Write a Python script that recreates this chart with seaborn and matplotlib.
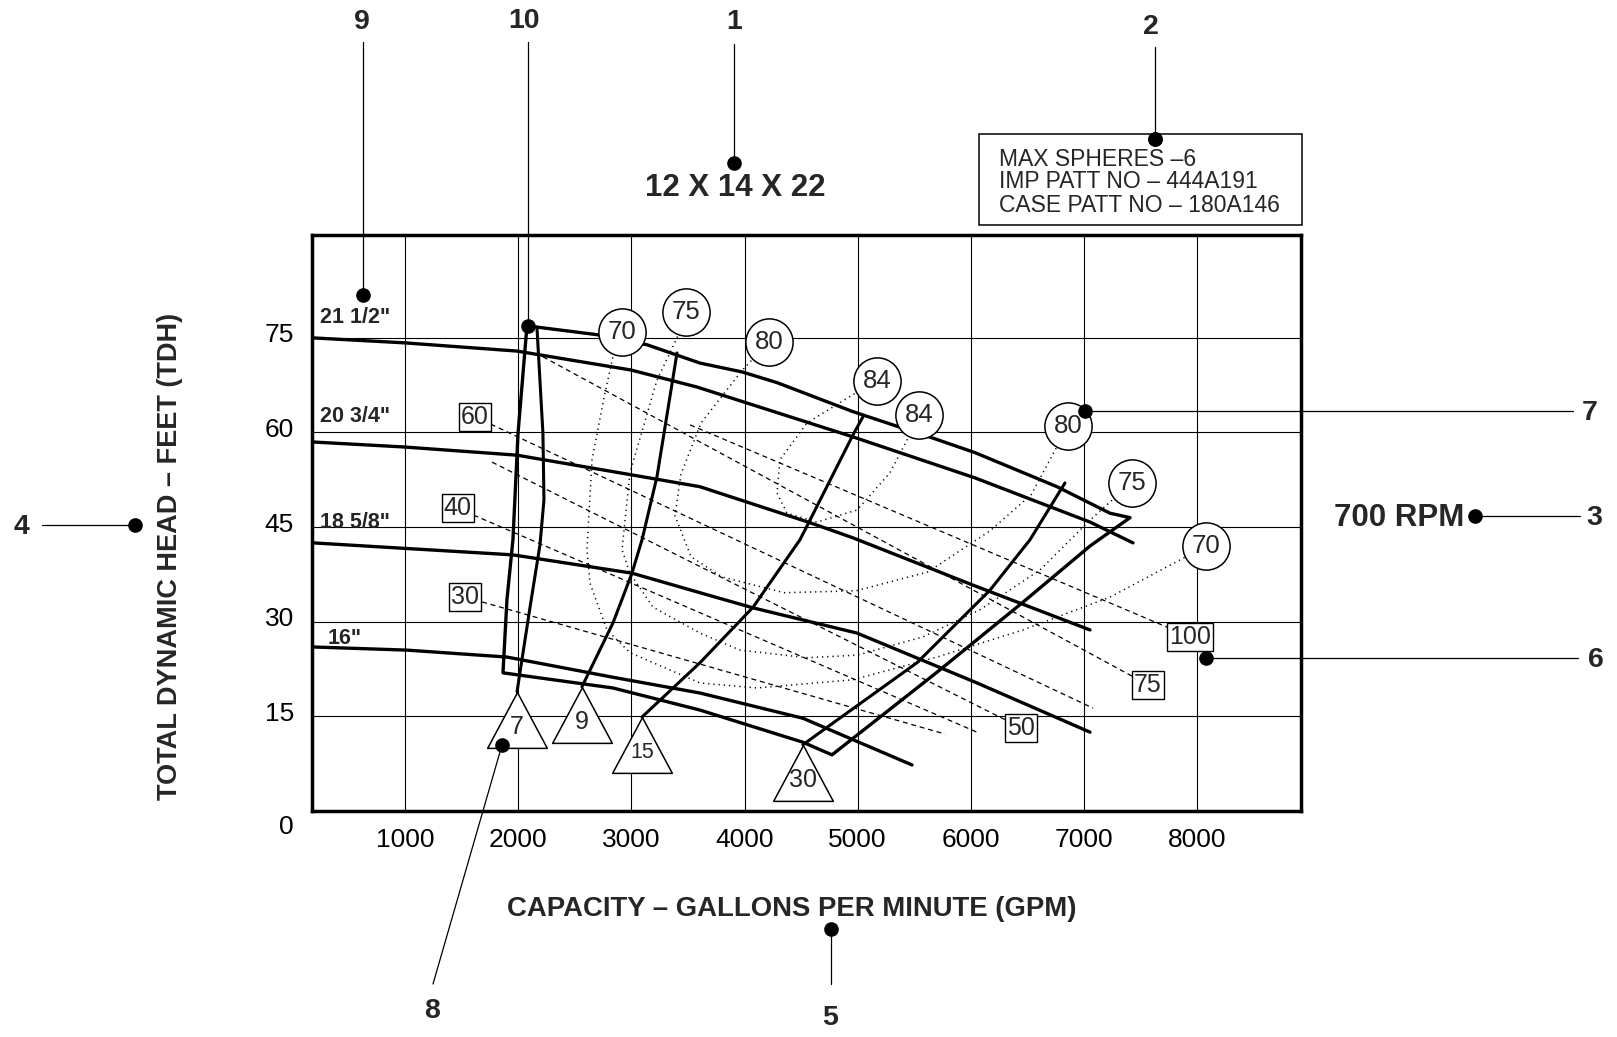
import matplotlib
matplotlib.use("Agg")
import matplotlib.pyplot as plt
from matplotlib.path import Path
from matplotlib.patches import Rectangle
from matplotlib.lines import Line2D
from matplotlib.transforms import ScaledTranslation
import seaborn as sns

# ---------------- data (capacity in GPM, head in feet) ----------------
gpm_ticks = [1000, 2000, 3000, 4000, 5000, 6000, 7000, 8000]
tdh_ticks = [0, 15, 30, 45, 60, 75]

# impeller head-capacity curves
imp_21_5_gpm = [177, 999, 1989, 2996, 3580, 4958, 6037, 7053, 7433]
imp_21_5_tdh = [75.0, 74.2, 72.9, 69.9, 67.2, 59.3, 52.8, 45.8, 42.5]
imp_20_75_gpm = [177, 990, 1989, 2996, 3606, 4578, 4958, 6019, 7053]
imp_20_75_tdh = [58.5, 57.7, 56.4, 53.3, 51.4, 45.7, 43.3, 35.8, 28.7]
imp_18_625_gpm = [186, 1953, 3005, 3606, 4075, 4994, 6054, 7053]
imp_18_625_tdh = [42.5, 40.6, 37.7, 34.6, 32.2, 28.2, 20.3, 12.5]
imp_16_gpm = [186, 1016, 1900, 2837, 3606, 4516, 5480]
imp_16_tdh = [26.0, 25.5, 24.4, 21.2, 18.7, 14.7, 7.3]
imp_labels = ['21 1/2"', '20 3/4"', '18 5/8"', '16"']

# recommended operating region
region_gpm = [2077, 2696, 3138, 3606, 3977, 4287, 4958, 5666, 6037, 6762, 7230, 7407,
              7053, 6461, 5701, 4773, 4516, 3606, 2837, 1865, 1900, 1953, 1998, 2077]
region_tdh = [76.9, 75.5, 73.9, 71.0, 69.6, 67.9, 63.3, 59.1, 56.8, 51.4, 47.2, 46.5,
              42.0, 33.1, 22.0, 8.9, 10.9, 16.0, 19.5, 21.9, 33.5, 43.0, 59.9, 76.9]

# NPSH required lines (first point = lower end)
npsh_7_gpm = [1989, 2104, 2192, 2227, 2218, 2165]
npsh_7_tdh = [18.9, 32.3, 42.2, 49.3, 59.9, 76.7]
npsh_9_gpm = [2563, 2837, 3005, 3094, 3226, 3403]
npsh_9_tdh = [19.7, 29.8, 37.7, 43.0, 53.0, 72.6]
npsh_15_gpm = [3094, 3606, 4075, 4490, 4578, 4958, 5047]
npsh_15_tdh = [14.9, 23.5, 32.3, 43.0, 46.1, 59.6, 62.5]
npsh_30_gpm = [4516, 4693, 5524, 6169, 6523, 6832]
npsh_30_tdh = [10.5, 12.8, 23.5, 35.0, 43.0, 52.0]
npsh_labels = [7, 9, 15, 30]

# efficiency contours (%)
eff_70_gpm = [2908, 2837, 2767, 2652, 2607, 2634, 2784, 2987, 3606, 4110, 4958, 5701, 6461, 7230, 8079]
eff_70_tdh = [75.8, 72.0, 66.3, 55.7, 41.4, 36.1, 28.7, 25.1, 20.3, 19.5, 20.8, 24.4, 28.7, 33.9, 42.0]
eff_75_gpm = [3482, 3403, 3226, 2987, 2917, 2987, 3191, 3606, 3960, 4552, 4994, 5577, 6081, 6611, 7053, 7416]
eff_75_tdh = [79.1, 75.0, 68.3, 53.6, 41.4, 37.7, 32.3, 28.2, 25.5, 24.3, 24.7, 27.6, 31.9, 38.2, 46.1, 52.0]
eff_80_gpm = [4216, 3977, 3615, 3438, 3385, 3527, 3801, 4349, 4985, 5621, 6169, 6532, 6859]
eff_80_tdh = [74.4, 69.8, 61.5, 53.4, 46.8, 40.3, 37.1, 34.6, 34.9, 37.9, 44.4, 50.1, 61.0]
eff_84_gpm = [5171, 4958, 4552, 4313, 4287, 4375, 4640, 4994, 5285, 5436, 5542]
eff_84_tdh = [68.2, 66.0, 61.5, 55.7, 50.4, 47.2, 45.8, 47.7, 53.6, 58.8, 62.8]
eff_labels = [70, 75, 80, 84, 84, 80, 75, 70]
eff_label_gpm = [2914, 3482, 4220, 5171, 5546, 6859, 7420, 8079]
eff_label_tdh = [75.9, 79.1, 74.3, 68.1, 62.7, 61.0, 52.0, 42.0]

# brake horsepower lines
hp_100_gpm = [3518, 7937]
hp_100_tdh = [61.2, 27.6]
hp_75_gpm = [2218, 7566]
hp_75_tdh = [72.0, 20.0]
hp_60_gpm = [1617, 7080]
hp_60_tdh = [62.5, 16.3]
hp_50_gpm = [1768, 6443]
hp_50_tdh = [55.3, 13.2]
hp_40_gpm = [1463, 6054]
hp_40_tdh = [48.0, 12.5]
hp_30_gpm = [1532, 5772]
hp_30_tdh = [33.9, 12.2]
hp_labels = [60, 40, 30, 100, 75, 50]
hp_label_gpm = [1617, 1463, 1532, 7937, 7566, 6443]
hp_label_tdh = [62.5, 48.0, 33.9, 27.6, 20.0, 13.2]

pump_size = "12 X 14 X 22"
speed = "700 RPM"
info_lines = ["MAX SPHERES \u20136", "IMP PATT NO \u2013 444A191", "CASE PATT NO \u2013 180A146"]
x_title = "CAPACITY \u2013 GALLONS PER MINUTE (GPM)"
y_title = "TOTAL DYNAMIC HEAD \u2013 FEET (TDH)"

# ---------------- figure ----------------
sns.set_theme(style="white")
plt.rcParams['font.family'] = ['Liberation Sans', 'DejaVu Sans']
plt.rcParams['lines.solid_capstyle'] = 'round'

W, H = 1617, 1037
fig = plt.figure(figsize=(W / 100, H / 100), dpi=100, facecolor='white')
ax = fig.add_axes([312 / W, 1 - 811 / H, (1301 - 312) / W, (811 - 235) / H])
ax.set_facecolor('white')
ax.set_xlim(177, 8918)
ax.set_ylim(0, 91.3)

ax.set_xticks(gpm_ticks)
ax.set_xticklabels([str(v) for v in gpm_ticks], fontsize=19)
ax.set_yticks(tdh_ticks)
ax.set_yticklabels([str(v) for v in tdh_ticks], fontsize=19)
ax.tick_params(axis='both', length=0, colors='black')
ax.tick_params(axis='x', pad=12)
ax.tick_params(axis='y', pad=13)
for lab, v in zip(ax.get_yticklabels(), tdh_ticks):
    dy = -0.14 if v == 0 else 0.05
    lab.set_transform(lab.get_transform() + ScaledTranslation(0, dy, fig.dpi_scale_trans))
ax.grid(True, color='black', lw=0.8)
ax.set_axisbelow(True)
for sp in ax.spines.values():
    sp.set_visible(True)
    sp.set_color('black')
    sp.set_linewidth(2.5)


def curve(xs, ys, lw=2.3, ls='-', z=3):
    sns.lineplot(x=xs, y=ys, sort=False, estimator=None, color='black', lw=lw,
                 linestyle=ls, ax=ax, legend=False, zorder=z)


dash = (0, (4, 3))
dot_ls = (0, (0.8, 2.6))

# horsepower lines
for xs, ys in [(hp_100_gpm, hp_100_tdh), (hp_75_gpm, hp_75_tdh), (hp_60_gpm, hp_60_tdh),
               (hp_50_gpm, hp_50_tdh), (hp_40_gpm, hp_40_tdh), (hp_30_gpm, hp_30_tdh)]:
    curve(xs, ys, lw=0.9, ls=dash, z=2)

# efficiency contours
for xs, ys in [(eff_70_gpm, eff_70_tdh), (eff_75_gpm, eff_75_tdh),
               (eff_80_gpm, eff_80_tdh), (eff_84_gpm, eff_84_tdh)]:
    curve(xs, ys, lw=1.1, ls=dot_ls, z=2)

# impeller curves, region and NPSH lines
for xs, ys in [(imp_21_5_gpm, imp_21_5_tdh), (imp_20_75_gpm, imp_20_75_tdh),
               (imp_18_625_gpm, imp_18_625_tdh), (imp_16_gpm, imp_16_tdh),
               (region_gpm, region_tdh)]:
    curve(xs, ys, lw=2.4)
npsh_lines = [(npsh_7_gpm, npsh_7_tdh), (npsh_9_gpm, npsh_9_tdh),
              (npsh_15_gpm, npsh_15_tdh), (npsh_30_gpm, npsh_30_tdh)]
for xs, ys in npsh_lines:
    curve(xs, ys, lw=2.2)

# impeller diameter labels
imp_label_pos = [(247, 78.3), (247, 62.5), (247, 45.7), (318, 27.3)]
for txt, (gx, hy) in zip(imp_labels, imp_label_pos):
    ax.text(gx, hy, txt, fontsize=15.5, fontweight='bold', ha='left', va='center', zorder=4)

# efficiency circles
sns.scatterplot(x=eff_label_gpm, y=eff_label_tdh, s=34 ** 2, color='white',
                edgecolor='black', linewidth=1.1, ax=ax, zorder=5, legend=False)
for v, gx, hy in zip(eff_labels, eff_label_gpm, eff_label_tdh):
    ax.text(gx, hy, str(v), fontsize=18.5, ha='center', va='center', zorder=6)

# horsepower boxes
for v, gx, hy in zip(hp_labels, hp_label_gpm, hp_label_tdh):
    ax.text(gx, hy, str(v), fontsize=18, ha='center', va='center', zorder=6,
            bbox=dict(boxstyle='square,pad=0.08', fc='white', ec='black', lw=1.0))

# NPSH triangles, apex on the lower end of each line
tri = Path([(0, 0.467), (-0.5, -0.467), (0.5, -0.467), (0, 0.467)],
           [Path.MOVETO, Path.LINETO, Path.LINETO, Path.CLOSEPOLY])
tri_shift = ax.transData + ScaledTranslation(0, -0.28, fig.dpi_scale_trans)
for v, (xs, ys) in zip(npsh_labels, npsh_lines):
    ax.plot([xs[0]], [ys[0]], marker=tri, ms=43, mfc='white', mec='black', mew=1.1,
            ls='none', transform=tri_shift, zorder=5)
    ax.annotate(str(v), (xs[0], ys[0]), xytext=(0, -25.5), textcoords='offset points',
                ha='center', va='center', fontsize=15.5 if v == 15 else 18, zorder=6)

# axis titles
fig.text(792 / W, 1 - 909 / H, x_title, fontsize=19.8, fontweight='bold', ha='center', va='center')
fig.text(170 / W, 1 - 556 / H, y_title, fontsize=19.5, fontweight='bold', ha='center', va='center',
         rotation=90)

# ---------------- callouts (figure pixels) ----------------
def leader(x0, y0, x1, y1):
    fig.add_artist(Line2D([x0 / W, x1 / W], [1 - y0 / H, 1 - y1 / H], color='black', lw=0.9,
                          transform=fig.transFigure, zorder=8))


def pin(px, py):
    fig.add_artist(Line2D([px / W], [1 - py / H], marker='o', ms=9.5, color='black', ls='none',
                          transform=fig.transFigure, zorder=9))


def num(px, py, s):
    fig.text(px / W, 1 - py / H, s, fontsize=20.5, fontweight='bold', ha='center', va='center')


callouts = [
    ("1", (734, 22), (734, 44), (734, 163)),
    ("9", (362, 22), (363, 42), (363, 295)),
    ("10", (524, 21), (528, 42), (528, 326)),
    ("2", (1151, 27), (1155, 47), (1155, 139)),
    ("7", (1590, 413), (1573, 411), (1085, 411)),
    ("3", (1594, 518), (1580, 516), (1475, 516)),
    ("6", (1596, 660), (1578, 658), (1206, 658)),
    ("4", (21, 527), (42, 525), (135, 525)),
    ("5", (830, 1018), (831, 984), (831, 929)),
    ("8", (432, 1011), (433, 984), (502, 745)),
]
for s, tpos, a, b in callouts:
    num(tpos[0], tpos[1], s)
    leader(a[0], a[1], b[0], b[1])
    pin(b[0], b[1])

fig.text(735 / W, 1 - 188 / H, pump_size, fontsize=22.5, fontweight='bold', ha='center', va='center')
fig.text(1464 / W, 1 - 518 / H, speed, fontsize=22.5, fontweight='bold', ha='right', va='center')

# pattern information box
fig.add_artist(Rectangle((979 / W, 1 - 225 / H), (1302 - 979) / W, (225 - 134) / H,
                         transform=fig.transFigure, fc='white', ec='black', lw=1.1, zorder=7))
for i, line in enumerate(info_lines):
    fig.text(999 / W, 1 - (159 + 23 * i) / H, line, fontsize=16.5, ha='left', va='center', zorder=8)
pin(1155, 139)

fig.savefig("out.png", dpi=100, facecolor='white')
